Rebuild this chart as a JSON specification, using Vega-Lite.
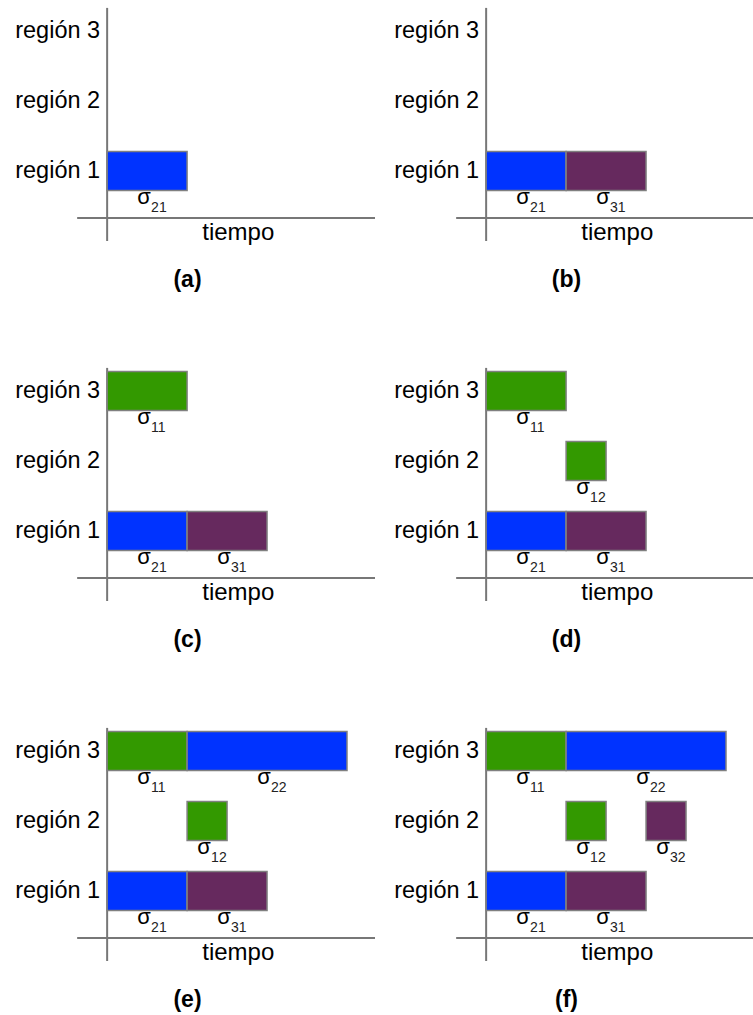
{
  "$schema": "https://vega.github.io/schema/vega-lite/v6.json",
  "padding": {"left": 0, "top": 3, "right": 0, "bottom": 0},
  "config": {"view": {"stroke": null}, "font": "Liberation Sans"},
  "data": {
    "values": [
      {"kind": "panel", "panel": "(a)"},
      {"kind": "panel", "panel": "(b)"},
      {"kind": "panel", "panel": "(c)"},
      {"kind": "panel", "panel": "(d)"},
      {"kind": "panel", "panel": "(e)"},
      {"kind": "panel", "panel": "(f)"},
      {"kind": "region", "panel": "(a)", "region": 1, "label": "región 1"},
      {"kind": "region", "panel": "(a)", "region": 2, "label": "región 2"},
      {"kind": "region", "panel": "(a)", "region": 3, "label": "región 3"},
      {"kind": "region", "panel": "(b)", "region": 1, "label": "región 1"},
      {"kind": "region", "panel": "(b)", "region": 2, "label": "región 2"},
      {"kind": "region", "panel": "(b)", "region": 3, "label": "región 3"},
      {"kind": "region", "panel": "(c)", "region": 1, "label": "región 1"},
      {"kind": "region", "panel": "(c)", "region": 2, "label": "región 2"},
      {"kind": "region", "panel": "(c)", "region": 3, "label": "región 3"},
      {"kind": "region", "panel": "(d)", "region": 1, "label": "región 1"},
      {"kind": "region", "panel": "(d)", "region": 2, "label": "región 2"},
      {"kind": "region", "panel": "(d)", "region": 3, "label": "región 3"},
      {"kind": "region", "panel": "(e)", "region": 1, "label": "región 1"},
      {"kind": "region", "panel": "(e)", "region": 2, "label": "región 2"},
      {"kind": "region", "panel": "(e)", "region": 3, "label": "región 3"},
      {"kind": "region", "panel": "(f)", "region": 1, "label": "región 1"},
      {"kind": "region", "panel": "(f)", "region": 2, "label": "región 2"},
      {"kind": "region", "panel": "(f)", "region": 3, "label": "región 3"},
      {"kind": "bar", "panel": "(a)", "region": 1, "start": 0, "end": 1, "task": "2", "sub": "21"},
      {"kind": "bar", "panel": "(b)", "region": 1, "start": 0, "end": 1, "task": "2", "sub": "21"},
      {"kind": "bar", "panel": "(b)", "region": 1, "start": 1, "end": 2, "task": "3", "sub": "31"},
      {"kind": "bar", "panel": "(c)", "region": 3, "start": 0, "end": 1, "task": "1", "sub": "11"},
      {"kind": "bar", "panel": "(c)", "region": 1, "start": 0, "end": 1, "task": "2", "sub": "21"},
      {"kind": "bar", "panel": "(c)", "region": 1, "start": 1, "end": 2, "task": "3", "sub": "31"},
      {"kind": "bar", "panel": "(d)", "region": 3, "start": 0, "end": 1, "task": "1", "sub": "11"},
      {"kind": "bar", "panel": "(d)", "region": 2, "start": 1, "end": 1.5, "task": "1", "sub": "12"},
      {"kind": "bar", "panel": "(d)", "region": 1, "start": 0, "end": 1, "task": "2", "sub": "21"},
      {"kind": "bar", "panel": "(d)", "region": 1, "start": 1, "end": 2, "task": "3", "sub": "31"},
      {"kind": "bar", "panel": "(e)", "region": 3, "start": 0, "end": 1, "task": "1", "sub": "11"},
      {"kind": "bar", "panel": "(e)", "region": 3, "start": 1, "end": 3, "task": "2", "sub": "22"},
      {"kind": "bar", "panel": "(e)", "region": 2, "start": 1, "end": 1.5, "task": "1", "sub": "12"},
      {"kind": "bar", "panel": "(e)", "region": 1, "start": 0, "end": 1, "task": "2", "sub": "21"},
      {"kind": "bar", "panel": "(e)", "region": 1, "start": 1, "end": 2, "task": "3", "sub": "31"},
      {"kind": "bar", "panel": "(f)", "region": 3, "start": 0, "end": 1, "task": "1", "sub": "11"},
      {"kind": "bar", "panel": "(f)", "region": 3, "start": 1, "end": 3, "task": "2", "sub": "22"},
      {"kind": "bar", "panel": "(f)", "region": 2, "start": 1, "end": 1.5, "task": "1", "sub": "12"},
      {"kind": "bar", "panel": "(f)", "region": 2, "start": 2, "end": 2.5, "task": "3", "sub": "32"},
      {"kind": "bar", "panel": "(f)", "region": 1, "start": 0, "end": 1, "task": "2", "sub": "21"},
      {"kind": "bar", "panel": "(f)", "region": 1, "start": 1, "end": 2, "task": "3", "sub": "31"}
    ]
  },
  "facet": {
    "field": "panel",
    "type": "nominal",
    "header": {
      "title": null,
      "labelOrient": "bottom",
      "labelFontSize": 23,
      "labelFontWeight": "bold",
      "labelFont": "Liberation Sans",
      "labelColor": "black",
      "labelPadding": 24
    }
  },
  "columns": 2,
  "spacing": {"row": 71, "column": 3},
  "spec": {
    "width": 375,
    "height": 238,
    "layer": [
      {
        "transform": [{"filter": "datum.kind == 'panel'"}],
        "mark": {"type": "rule", "color": "#777777", "strokeWidth": 2},
        "encoding": {
          "x": {"datum": 0, "type": "quantitative", "scale": {"domain": [-1.34, 3.35], "nice": false, "zero": false, "padding": 0}, "axis": null},
          "y": {"datum": 0, "type": "quantitative", "scale": {"domain": [0, 3.4], "nice": false, "zero": false, "padding": 0}, "axis": null},
          "y2": {"datum": 3.33}
        }
      },
      {
        "transform": [{"filter": "datum.kind == 'panel'"}],
        "mark": {"type": "rule", "color": "#777777", "strokeWidth": 2},
        "encoding": {
          "x": {"datum": -0.375, "type": "quantitative", "axis": null},
          "x2": {"datum": 3.35},
          "y": {"datum": 0.33, "type": "quantitative", "axis": null}
        }
      },
      {
        "transform": [{"filter": "datum.kind == 'bar'"}],
        "mark": {"type": "bar", "orient": "horizontal", "height": 39, "stroke": "#808080", "strokeWidth": 1.5},
        "encoding": {
          "x": {"field": "start", "type": "quantitative", "axis": null},
          "x2": {"field": "end"},
          "y": {"field": "region", "type": "quantitative", "axis": null},
          "color": {
            "field": "task",
            "type": "nominal",
            "scale": {"domain": ["1", "2", "3"], "range": ["#339900", "#0033ff", "#66295e"]},
            "legend": null
          }
        }
      },
      {
        "transform": [{"filter": "datum.kind == 'region'"}],
        "mark": {"type": "text", "align": "right", "baseline": "middle", "dx": -7, "fontSize": 23.5, "color": "black"},
        "encoding": {
          "x": {"datum": 0, "type": "quantitative", "axis": null},
          "y": {"field": "region", "type": "quantitative", "axis": null},
          "text": {"field": "label"}
        }
      },
      {
        "transform": [{"filter": "datum.kind == 'panel'"}],
        "mark": {"type": "text", "align": "center", "baseline": "alphabetic", "dy": 22, "fontSize": 24, "color": "black"},
        "encoding": {
          "x": {"datum": 1.64, "type": "quantitative", "axis": null},
          "y": {"datum": 0.33, "type": "quantitative", "axis": null},
          "text": {"value": "tiempo"}
        }
      },
      {
        "transform": [{"filter": "datum.kind == 'bar'"}, {"calculate": "(datum.start + datum.end) / 2", "as": "mid"}],
        "mark": {"type": "text", "align": "center", "baseline": "alphabetic", "dx": -3, "dy": 33, "fontSize": 22, "color": "black"},
        "encoding": {
          "x": {"field": "mid", "type": "quantitative", "axis": null},
          "y": {"field": "region", "type": "quantitative", "axis": null},
          "text": {"value": "σ"}
        }
      },
      {
        "transform": [{"filter": "datum.kind == 'bar'"}, {"calculate": "(datum.start + datum.end) / 2", "as": "mid"}],
        "mark": {"type": "text", "align": "left", "baseline": "alphabetic", "dx": 4, "dy": 41, "fontSize": 14, "color": "#222222"},
        "encoding": {
          "x": {"field": "mid", "type": "quantitative", "axis": null},
          "y": {"field": "region", "type": "quantitative", "axis": null},
          "text": {"field": "sub"}
        }
      }
    ]
  }
}
